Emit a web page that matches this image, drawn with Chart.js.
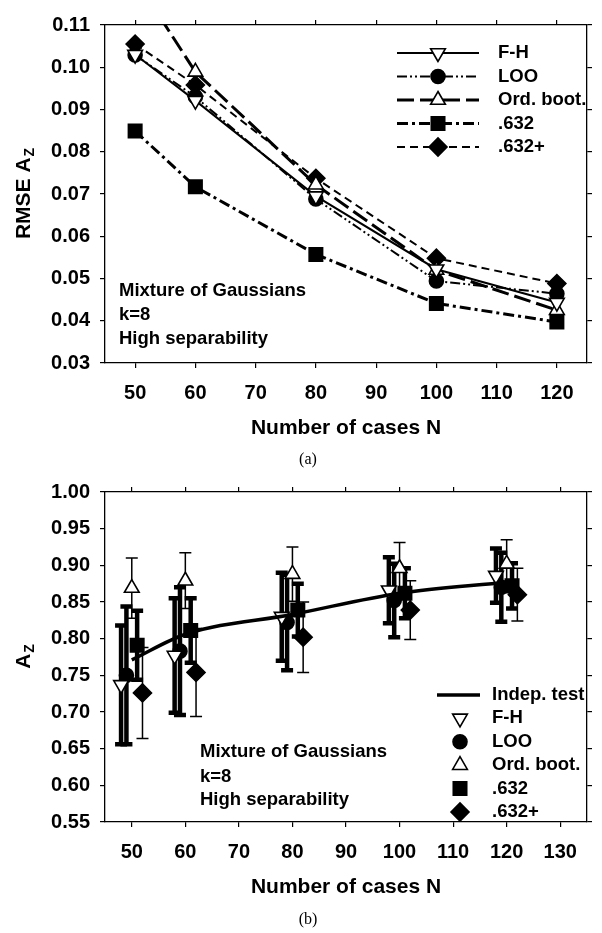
<!DOCTYPE html>
<html>
<head>
<meta charset="utf-8">
<script src="https://cdn.jsdelivr.net/npm/chart.js@4.4.1/dist/chart.umd.min.js"></script>
<style>
  html, body { margin: 0; padding: 0; background: #fff; }
  #wrap { position: relative; width: 602px; height: 933px; }
  .box { position: absolute; left: 0; width: 602px; }
  #box-a { top: 0; height: 470px; }
  #box-b { top: 470px; height: 463px; }
</style>
</head>
<body>
<div id="wrap">
  <div class="box" id="box-a"><canvas id="chart-a"></canvas></div>
  <div class="box" id="box-b"><canvas id="chart-b"></canvas></div>
</div>
<script>
// ---- data, panel (a): RMSE of Az vs N
var nCases = [50, 60, 80, 100, 120];
var rmseFH = [0.1030, 0.0921, 0.0695, 0.0522, 0.0443];
var rmseLOO = [0.1029, 0.0930, 0.0688, 0.0494, 0.0464];
var rmseOrd = [0.1210, 0.0989, 0.0722, 0.0520, 0.0425];
var rmse632 = [0.0849, 0.0717, 0.0557, 0.0441, 0.0397];
var rmse632p = [0.1055, 0.0958, 0.0737, 0.0548, 0.0488];
var xTicksA = [50, 60, 70, 80, 90, 100, 110, 120];
var yTicksA = [0.03, 0.04, 0.05, 0.06, 0.07, 0.08, 0.09, 0.10, 0.11];

// ---- data, panel (b): mean Az with error bars
var indepAz = [0.771, 0.806, 0.833, 0.862, 0.877];
var azFH = [0.737, 0.777, 0.830, 0.866, 0.886];
var errFH = [0.081, 0.078, 0.060, 0.045, 0.037];
var azLOO = [0.750, 0.783, 0.822, 0.852, 0.870];
var errLOO = [0.094, 0.087, 0.065, 0.050, 0.047];
var azOrd = [0.869, 0.879, 0.888, 0.896, 0.902];
var errOrd = [0.041, 0.038, 0.037, 0.035, 0.033];
var az632 = [0.791, 0.811, 0.839, 0.862, 0.872];
var err632 = [0.047, 0.044, 0.036, 0.034, 0.031];
var az632p = [0.726, 0.754, 0.802, 0.839, 0.860];
var err632p = [0.062, 0.060, 0.048, 0.040, 0.036];
var xTicksB = [50, 60, 70, 80, 90, 100, 110, 120, 130];
var yTicksB = [0.55, 0.60, 0.65, 0.70, 0.75, 0.80, 0.85, 0.90, 0.95, 1.00];

var FONT = "'Liberation Sans', Arial, sans-serif";
Chart.defaults.font.family = FONT;
Chart.defaults.font.weight = 'bold';
Chart.defaults.font.size = 20;
Chart.defaults.color = '#000';

function pts(xs, ys, shift) {
  return xs.map(function (x, i) { return { x: x + (shift || 0), y: ys[i] }; });
}

function axis(pos, min, max, ticks, labels, size, fmt) {
  var horiz = pos === 'top' || pos === 'bottom';
  return {
    type: 'linear', position: pos, min: min, max: max,
    afterBuildTicks: function (s) { s.ticks = ticks.map(function (v) { return { value: v }; }); },
    afterFit: function (s) { if (horiz) s.height = size; else s.width = size; },
    grid: { drawOnChartArea: false, drawTicks: true, tickLength: 5, color: '#000', lineWidth: 1.2 },
    border: { display: true, color: '#000', width: 1.3 },
    ticks: { display: labels, padding: horiz ? 13 : 10, color: '#000', callback: fmt }
  };
}

// error bars drawn through the chart scales
var errorBars = {
  id: 'errorBars',
  beforeDatasetsDraw: function (chart) {
    var ctx = chart.ctx, xs = chart.scales.x, ys = chart.scales.y;
    ctx.save();
    chart.data.datasets.forEach(function (ds) {
      if (!ds.errors) return;
      ctx.strokeStyle = '#000';
      ctx.lineWidth = ds.errWidth;
      ds.data.forEach(function (p, i) {
        var px = xs.getPixelForValue(p.x);
        var hi = ys.getPixelForValue(p.y + ds.errors[i]);
        var lo = ys.getPixelForValue(p.y - ds.errors[i]);
        ctx.beginPath();
        ctx.moveTo(px, hi); ctx.lineTo(px, lo);
        ctx.moveTo(px - 6, hi); ctx.lineTo(px + 6, hi);
        ctx.moveTo(px - 6, lo); ctx.lineTo(px + 6, lo);
        ctx.stroke();
      });
    });
    ctx.restore();
  }
};

// titles, notes, legend
var decor = {
  id: 'decor',
  afterDraw: function (chart, args, o) {
    var ctx = chart.ctx, ca = chart.chartArea;
    ctx.save();
    ctx.fillStyle = '#000';
    ctx.textBaseline = 'middle';

    // y title with subscript, rotated
    ctx.save();
    ctx.translate(o.yTitleX, (ca.top + ca.bottom) / 2);
    ctx.rotate(-Math.PI / 2);
    ctx.font = 'bold 21px ' + FONT;
    var w1 = ctx.measureText(o.yTitle[0]).width;
    ctx.font = 'bold 14px ' + FONT;
    var w2 = ctx.measureText(o.yTitle[1]).width;
    ctx.textAlign = 'left';
    ctx.font = 'bold 21px ' + FONT;
    ctx.fillText(o.yTitle[0], -(w1 + w2) / 2, 0);
    ctx.font = 'bold 14px ' + FONT;
    ctx.fillText(o.yTitle[1], -(w1 + w2) / 2 + w1 + 1, 6);
    ctx.restore();

    // x title and panel tag
    ctx.textAlign = 'center';
    ctx.font = 'bold 21px ' + FONT;
    ctx.fillText('Number of cases N', (ca.left + ca.right) / 2, o.xTitleY);
    ctx.font = "16px 'Liberation Serif', 'Times New Roman', serif";
    ctx.fillText(o.tag, 308, o.tagY);

    // note
    ctx.textAlign = 'left';
    ctx.font = 'bold 18.5px ' + FONT;
    o.note.forEach(function (t, i) { ctx.fillText(t, o.noteX, o.noteY[i]); });

    // legend
    var L = o.legend;
    chart.data.datasets.forEach(function (ds, i) {
      var y = L.y0 + i * L.dy;
      if (L.lines || ds.pointRadius === 0) {
        ctx.save();
        ctx.strokeStyle = '#000';
        ctx.lineWidth = ds.borderWidth;
        ctx.setLineDash(ds.borderDash || []);
        ctx.beginPath(); ctx.moveTo(L.x0, y); ctx.lineTo(L.x1, y); ctx.stroke();
        ctx.restore();
      }
      if (ds.pointRadius > 0) {
        ctx.save();
        ctx.fillStyle = ds.pointBackgroundColor;
        ctx.strokeStyle = '#000';
        ctx.lineWidth = ds.pointBorderWidth;
        Chart.helpers.drawPoint(ctx, {
          pointStyle: ds.pointStyle, rotation: ds.pointRotation || 0,
          radius: ds.pointRadius, borderWidth: ds.pointBorderWidth
        }, L.mx, y);
        ctx.restore();
      }
      ctx.font = 'bold 18.5px ' + FONT;
      ctx.fillText(ds.label, L.tx, y);
    });
    ctx.restore();
  }
};

function marks(label, style, rot, r, fill) {
  return {
    label: label, pointStyle: style, pointRotation: rot, pointRadius: r,
    pointHoverRadius: r, pointBackgroundColor: fill, pointBorderColor: '#000',
    pointBorderWidth: 1.6, borderColor: '#000'
  };
}

function withLine(d, data, width, dash) {
  d.data = data; d.borderWidth = width; d.borderDash = dash;
  d.fill = false; d.tension = 0;
  return d;
}

var fmt2 = function (v) { return Number(v).toFixed(2); };
var fmt0 = function (v) { return String(v); };

new Chart(document.getElementById('chart-a'), {
  type: 'line',
  data: {
    datasets: [
      withLine(marks('F-H', 'triangle', 180, 8.5, '#fff'), pts(nCases, rmseFH), 2, []),
      withLine(marks('LOO', 'circle', 0, 7, '#000'), pts(nCases, rmseLOO), 2, [10, 3, 2, 3, 2, 3]),
      withLine(marks('Ord. boot.', 'triangle', 0, 8.5, '#fff'), pts(nCases, rmseOrd), 3, [17, 6]),
      withLine(marks('.632', 'rect', 0, 9.5, '#000'), pts(nCases, rmse632), 3, [11, 4, 3, 4]),
      withLine(marks('.632+', 'rectRot', 0, 9, '#000'), pts(nCases, rmse632p), 2, [8, 5])
    ]
  },
  options: {
    responsive: true, maintainAspectRatio: false, animation: false, devicePixelRatio: 1,
    layout: { padding: 0 },
    scales: {
      x: axis('bottom', 45, 125, xTicksA, true, 107, fmt0),
      xTop: axis('top', 45, 125, xTicksA, false, 25, fmt0),
      y: axis('left', 0.03, 0.11, yTicksA, true, 105, fmt2),
      yRight: axis('right', 0.03, 0.11, yTicksA, false, 15, fmt2)
    },
    plugins: {
      legend: { display: false }, tooltip: { enabled: false },
      decor: {
        yTitle: ['RMSE A', 'Z'], yTitleX: 24, xTitleY: 428, tag: '(a)', tagY: 460,
        note: ['Mixture of Gaussians', 'k=8', 'High separability'], noteX: 119, noteY: [291, 315, 339],
        legend: { lines: true, x0: 397, x1: 479, mx: 438, tx: 498, y0: 53, dy: 23.5 }
      }
    }
  },
  plugins: [decor]
});

function errDs(d, data, errs, w) {
  d.data = data; d.errors = errs; d.errWidth = w; d.showLine = false;
  return d;
}

new Chart(document.getElementById('chart-b'), {
  type: 'line',
  data: {
    datasets: [
      { label: 'Indep. test', data: pts(nCases, indepAz), borderColor: '#000', borderWidth: 3.5,
        pointRadius: 0, pointHoverRadius: 0, tension: 0.4, cubicInterpolationMode: 'monotone', fill: false },
      errDs(marks('F-H', 'triangle', 180, 8.5, '#fff'), pts(nCases, azFH, -2), errFH, 4.5),
      errDs(marks('LOO', 'circle', 0, 7, '#000'), pts(nCases, azLOO, -1), errLOO, 4.5),
      errDs(marks('Ord. boot.', 'triangle', 0, 8.5, '#fff'), pts(nCases, azOrd, 0), errOrd, 1.5),
      errDs(marks('.632', 'rect', 0, 9.5, '#000'), pts(nCases, az632, 1), err632, 4.5),
      errDs(marks('.632+', 'rectRot', 0, 9, '#000'), pts(nCases, az632p, 2), err632p, 1.5)
    ]
  },
  options: {
    responsive: true, maintainAspectRatio: false, animation: false, devicePixelRatio: 1,
    layout: { padding: 0 },
    scales: {
      x: axis('bottom', 45, 135, xTicksB, true, 111, fmt0),
      xTop: axis('top', 45, 135, xTicksB, false, 14, fmt0),
      y: axis('left', 0.55, 1.00, yTicksB, true, 105, fmt2),
      yRight: axis('right', 0.55, 1.00, yTicksB, false, 15, fmt2)
    },
    plugins: {
      legend: { display: false }, tooltip: { enabled: false },
      decor: {
        yTitle: ['A', 'Z'], yTitleX: 24, xTitleY: 417, tag: '(b)', tagY: 450,
        note: ['Mixture of Gaussians', 'k=8', 'High separability'], noteX: 200, noteY: [282, 307, 330],
        legend: { lines: false, x0: 437, x1: 480, mx: 460, tx: 492, y0: 225, dy: 23.4 }
      }
    }
  },
  plugins: [errorBars, decor]
});
</script>
</body>
</html>
